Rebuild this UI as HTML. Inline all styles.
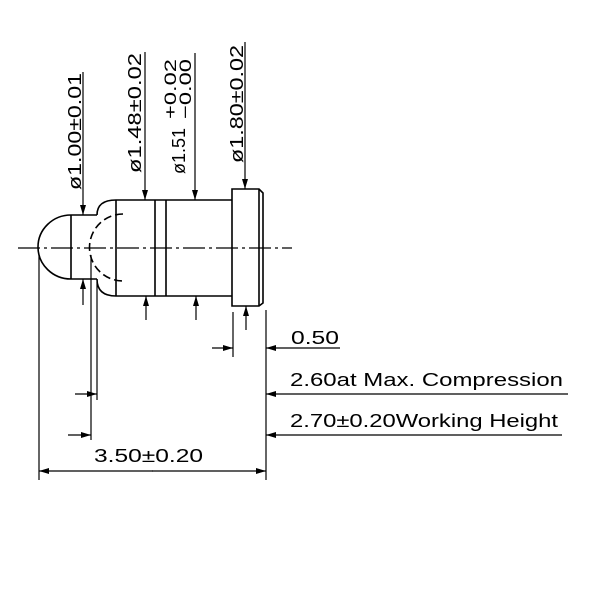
<!DOCTYPE html>
<html><head><meta charset="utf-8"><style>html,body{margin:0;padding:0;background:#fff}svg{display:block}</style></head>
<body>
<svg width="600" height="600" viewBox="0 0 600 600" xmlns="http://www.w3.org/2000/svg" font-family="Liberation Sans, sans-serif" fill="none" stroke="#000" stroke-width="1.6">
<defs>
<marker id="a" viewBox="0 0 10 6" refX="10" refY="3" markerWidth="10" markerHeight="6" orient="auto" markerUnits="userSpaceOnUse"><path d="M0,0 L10,3 L0,6 z" fill="#000" stroke="none"/></marker>
</defs>
<line x1="18" y1="248" x2="292" y2="248" stroke-width="1.2" stroke-dasharray="22,4,3,4"/>
<path d="M71,215 A33,32 0 0 0 71,279"/>
<line x1="71" y1="215" x2="71" y2="279"/>
<line x1="71" y1="215" x2="97" y2="215"/>
<line x1="71" y1="279" x2="97" y2="279"/>
<path d="M97,215 Q97,200 116,200 L232,200 M97,279 Q97,296 116,296 L232,296"/>
<line x1="116" y1="200" x2="116" y2="296"/>
<line x1="155" y1="200" x2="155" y2="296"/>
<line x1="166" y1="200" x2="166" y2="296"/>
<path d="M123,214 A33,33 0 0 0 123,281" stroke-dasharray="8,4"/>
<path d="M232,189 L259,189 L263,193 L263,303 L259,306 L232,306 Z"/>
<line x1="259" y1="189" x2="259" y2="306"/>
<line x1="83" y1="72" x2="83" y2="215" marker-end="url(#a)" stroke-width="1.2"/>
<line x1="145" y1="52" x2="145" y2="200" marker-end="url(#a)" stroke-width="1.2"/>
<line x1="195" y1="53" x2="195" y2="200" marker-end="url(#a)" stroke-width="1.2"/>
<line x1="245" y1="42" x2="245" y2="189" marker-end="url(#a)" stroke-width="1.2"/>
<line x1="83" y1="305" x2="83" y2="279" marker-end="url(#a)" stroke-width="1.2"/>
<line x1="146" y1="320" x2="146" y2="296" marker-end="url(#a)" stroke-width="1.2"/>
<line x1="196" y1="320" x2="196" y2="296" marker-end="url(#a)" stroke-width="1.2"/>
<line x1="246" y1="330" x2="246" y2="306" marker-end="url(#a)" stroke-width="1.2"/>
<line x1="39" y1="255" x2="39" y2="480" stroke-width="1.2"/>
<line x1="91" y1="255" x2="91" y2="440" stroke-width="1.2"/>
<line x1="97" y1="282" x2="97" y2="400" stroke-width="1.2"/>
<line x1="233" y1="312" x2="233" y2="357" stroke-width="1.2"/>
<line x1="266" y1="310" x2="266" y2="480" stroke-width="1.2"/>
<line x1="212" y1="348" x2="233" y2="348" marker-end="url(#a)" stroke-width="1.2"/>
<line x1="340" y1="348" x2="266" y2="348" marker-end="url(#a)" stroke-width="1.2"/>
<line x1="568" y1="394" x2="266" y2="394" marker-end="url(#a)" stroke-width="1.2"/>
<line x1="562" y1="435" x2="266" y2="435" marker-end="url(#a)" stroke-width="1.2"/>
<line x1="75" y1="394" x2="97" y2="394" marker-end="url(#a)" stroke-width="1.2"/>
<line x1="68" y1="435" x2="91" y2="435" marker-end="url(#a)" stroke-width="1.2"/>
<line x1="152" y1="471" x2="266" y2="471" marker-end="url(#a)" stroke-width="1.2"/>
<line x1="153" y1="471" x2="39" y2="471" marker-end="url(#a)" stroke-width="1.2"/>
<g fill="#000" stroke="none" font-size="18">
<text x="291" y="344" textLength="48" lengthAdjust="spacingAndGlyphs">0.50</text>
<text x="290" y="386" textLength="273" lengthAdjust="spacingAndGlyphs">2.60at Max. Compression</text>
<text x="290" y="427" textLength="268" lengthAdjust="spacingAndGlyphs">2.70±0.20Working Height</text>
<text x="94" y="462" textLength="109" lengthAdjust="spacingAndGlyphs">3.50±0.20</text>
<text transform="translate(81,190) rotate(-90)" textLength="117" lengthAdjust="spacingAndGlyphs">ø1.00±0.01</text>
<text transform="translate(141,173) rotate(-90)" textLength="120" lengthAdjust="spacingAndGlyphs">ø1.48±0.02</text>
<text transform="translate(185,174) rotate(-90)">ø1.51</text>
<text transform="translate(176,119) rotate(-90)" font-size="17" textLength="60" lengthAdjust="spacingAndGlyphs">+0.02</text>
<text transform="translate(191,119) rotate(-90)" font-size="17" textLength="60" lengthAdjust="spacingAndGlyphs">−0.00</text>
<text transform="translate(243,163) rotate(-90)" textLength="118" lengthAdjust="spacingAndGlyphs">ø1.80±0.02</text>
</g>
</svg>
</body></html>
